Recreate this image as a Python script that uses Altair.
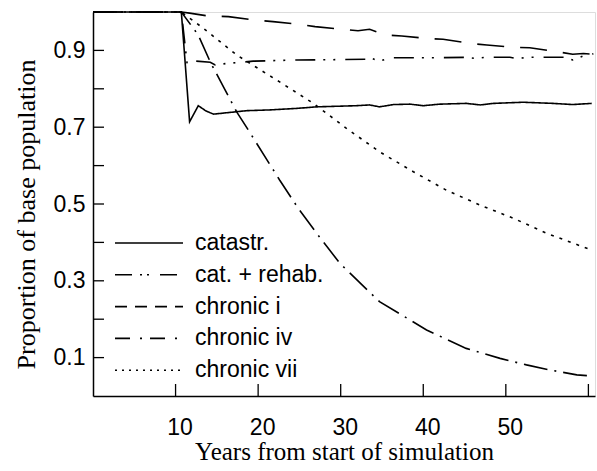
import altair as alt
import pandas as pd

# ---- data ----
series_names = ["catastr.", "cat. + rehab.", "chronic i", "chronic iv", "chronic vii"]

catastr_x = [0, 10.7, 11.7, 12.75, 13.7, 14.6, 16.8, 18.6, 21.4, 24.7, 27.1, 31.9, 33.5, 34.7, 36.4, 38.4, 40.0, 42.0, 45.2, 46.9, 48.5, 52.1, 55.7, 58.1, 60.4]
catastr_y = [1.0, 1.0, 0.714, 0.756, 0.742, 0.734, 0.739, 0.743, 0.745, 0.749, 0.753, 0.756, 0.758, 0.753, 0.759, 0.760, 0.756, 0.760, 0.762, 0.758, 0.762, 0.765, 0.762, 0.759, 0.762]

rehab_x = [0, 10.7, 11.4, 12.5, 14.2, 14.8, 16.2, 19.4, 24.7, 30.0, 33.0, 33.5, 34.7, 36.0, 42.0, 45.2, 46.4, 47.5, 50.5, 51.2, 53.0, 57.0, 58.1, 59.4, 60.6]
rehab_y = [1.0, 1.0, 0.865, 0.872, 0.869, 0.862, 0.866, 0.872, 0.875, 0.876, 0.877, 0.881, 0.872, 0.881, 0.881, 0.882, 0.879, 0.882, 0.882, 0.879, 0.882, 0.882, 0.875, 0.886, 0.891]

chronic1_x = [0, 10.7, 11.7, 13.8, 16.4, 19.6, 21.8, 24.5, 26.9, 30.1, 32.1, 33.5, 35.4, 37.4, 40.6, 42.4, 45.8, 47.7, 50.9, 52.9, 56.1, 58.1, 59.4, 60.6]
chronic1_y = [1.0, 1.0, 0.997, 0.990, 0.988, 0.979, 0.975, 0.969, 0.962, 0.955, 0.951, 0.955, 0.940, 0.9375, 0.931, 0.929, 0.918, 0.914, 0.908, 0.907, 0.897, 0.890, 0.892, 0.890]

chronic4_x = [0, 10.7, 12.75, 14.2, 15.8, 17.4, 18.8, 22.6, 24.85, 27.1, 29.9, 34.7, 40.4, 45.2, 49.3, 52.5, 55.3, 58.6, 60.4]
chronic4_y = [1.0, 1.0, 0.940, 0.870, 0.805, 0.740, 0.693, 0.5625, 0.489, 0.4235, 0.3455, 0.2456, 0.172, 0.124, 0.098, 0.081, 0.068, 0.055, 0.052]

chronic7_x = [0, 10.7, 13.4, 17.4, 22.6, 26.7, 30.7, 34.7, 38.8, 42.8, 46.9, 50.9, 54.9, 60.4]
chronic7_y = [1.0, 1.0, 0.957, 0.888, 0.818, 0.762, 0.697, 0.636, 0.584, 0.536, 0.497, 0.463, 0.424, 0.380]

x_label_values = [10, 20, 30, 40, 50]
x_tick_values = [10, 20, 30, 40, 50, 60]
y_label_values = [0.1, 0.3, 0.5, 0.7, 0.9]
y_tick_values = [0.1, 0.2, 0.3, 0.4, 0.5, 0.6, 0.7, 0.8, 0.9]

# ---- styles ----
plot_dashes = [[1, 0], [20, 8, 2, 8, 2, 10], [27, 16], [24, 7, 2, 7], [3, 6]]
legend_dashes = [[1, 0], [17, 8, 2, 5, 2, 11], [12, 8], [15, 10, 2, 8], [2, 5]]

xs = [catastr_x, rehab_x, chronic1_x, chronic4_x, chronic7_x]
ys = [catastr_y, rehab_y, chronic1_y, chronic4_y, chronic7_y]
rows = []
for name, xv, yv in zip(series_names, xs, ys):
    for i, (a, b) in enumerate(zip(xv, yv)):
        rows.append({"series": name, "year": a, "value": b, "idx": i})
df = pd.DataFrame(rows)

SANS = "Liberation Sans"
SERIF = "Liberation Serif"
W, H = 502, 384

xscale = alt.Scale(domain=[0, 60.8], nice=False, zero=False)
yscale = alt.Scale(domain=[0, 1], nice=False, zero=False)

x_axis = alt.Axis(values=x_label_values, ticks=False, tickSize=0, grid=False,
                  labelFont=SANS, labelFontSize=23, labelColor="black",
                  labelPadding=20, labelOffset=4, labelBaseline="top",
                  domainColor="black", domainWidth=1.5,
                  title="Years from start of simulation",
                  titleFont=SERIF, titleFontSize=25, titleFontWeight="normal",
                  titleColor="black", titleBaseline="alphabetic", titleY=63)
y_axis = alt.Axis(values=y_label_values, format=".1f", ticks=False, tickSize=0, grid=False,
                  labelFont=SANS, labelFontSize=23, labelColor="black",
                  labelPadding=8, labelBaseline="middle",
                  domainColor="black", domainWidth=1.5,
                  title="Proportion of base population",
                  titleFont=SERIF, titleFontSize=26, titleFontWeight="normal",
                  titleColor="black", titleBaseline="alphabetic",
                  titleX=-59, titleY=202, titleAngle=270)

lines = alt.Chart(df).mark_line(color="black", strokeWidth=1.6).encode(
    x=alt.X("year:Q", scale=xscale, axis=x_axis),
    y=alt.Y("value:Q", scale=yscale, axis=y_axis),
    strokeDash=alt.StrokeDash("series:N", scale=alt.Scale(domain=series_names, range=plot_dashes), legend=None),
    detail="series:N",
    order="idx:Q",
)

ytick_df = pd.DataFrame({"value": y_tick_values})
yticks = alt.Chart(ytick_df).mark_rule(color="black", strokeWidth=1.3).encode(
    y=alt.Y("value:Q", scale=yscale, axis=y_axis),
    x=alt.value(0), x2=alt.value(11),
)
xtick_df = pd.DataFrame({"year": x_tick_values})
xticks = alt.Chart(xtick_df).mark_rule(color="black", strokeWidth=1.3).encode(
    x=alt.X("year:Q", scale=xscale, axis=x_axis),
    y=alt.value(H), y2=alt.value(H - 12),
)

legend_layers = []
for i, (name, dash) in enumerate(zip(series_names, legend_dashes)):
    ly = 231 + 31.8 * i
    ldf = pd.DataFrame({"label": [name]})
    legend_layers.append(
        alt.Chart(ldf).mark_rule(color="black", strokeWidth=1.6, strokeDash=dash).encode(
            x=alt.value(22), x2=alt.value(90), y=alt.value(ly))
    )
    legend_layers.append(
        alt.Chart(ldf).mark_text(align="left", baseline="middle", font=SANS, fontSize=23,
                                 color="black").encode(
            x=alt.value(102), y=alt.value(ly), text="label:N")
    )

chart = alt.layer(lines, yticks, xticks, *legend_layers).resolve_scale(
    strokeDash="independent"
).properties(
    width=W, height=H,
    autosize="none",
    padding={"left": 93, "top": 12, "right": 2, "bottom": 75},
).configure_view(stroke="#777", strokeWidth=1.5).configure(background="white")

chart.save("out.html", embed_options={"renderer": "svg", "actions": False})
